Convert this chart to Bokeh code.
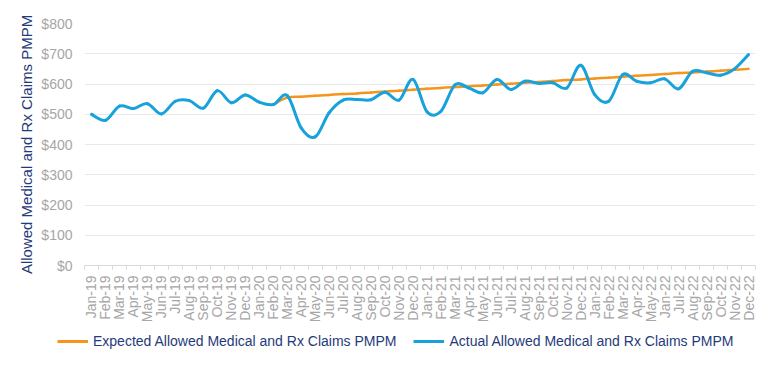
import numpy as np
from bokeh.plotting import figure
from bokeh.layouts import column
from bokeh.models import (Range1d, FixedTicker, Legend, LegendItem,
                          NumeralTickFormatter, ColumnDataSource)
from bokeh.embed import file_html
from bokeh.resources import INLINE

months = ["Jan-19", "Feb-19", "Mar-19", "Apr-19", "May-19", "Jun-19", "Jul-19", "Aug-19",
          "Sep-19", "Oct-19", "Nov-19", "Dec-19",
          "Jan-20", "Feb-20", "Mar-20", "Apr-20", "May-20", "Jun-20", "Jul-20", "Aug-20",
          "Sep-20", "Oct-20", "Nov-20", "Dec-20",
          "Jan-21", "Feb-21", "Mar-21", "Apr-21", "May-21", "Jun-21", "Jul-21", "Aug-21",
          "Sep-21", "Oct-21", "Nov-21", "Dec-21",
          "Jan-22", "Feb-22", "Mar-22", "Apr-22", "May-22", "Jan-22", "Jul-22", "Aug-22",
          "Sep-22", "Oct-22", "Nov-22", "Dec-22"]

actual = [500, 480, 527, 519, 535, 501, 543, 545, 520, 578, 538, 564,
          540, 532, 562, 455, 425, 505, 547, 549, 548, 573, 547, 615,
          508, 510, 597, 587, 571, 615, 582, 609, 602, 604, 587, 662,
          565, 543, 631, 609, 604, 617, 584, 642, 637, 629, 650, 697]

# Expected series starts at Feb-20 (index 13)
expected_start = 13
expected = [532, 555, 558, 561, 564, 567, 569, 572, 575, 578, 581, 584, 587, 590,
            592, 595, 598, 601, 604, 607, 610, 613, 615, 618, 621, 624, 627,
            630, 633, 636, 638, 641, 644, 647, 650]

y_ticks = [0, 100, 200, 300, 400, 500, 600, 700, 800]

series_names = ["Expected Allowed Medical and Rx Claims PMPM",
                "Actual Allowed Medical and Rx Claims PMPM"]

NAVY = "#1F3B7A"
BLUE = "#17A2DC"
ORANGE = "#F7941D"
FONT = "Liberation Sans"


def smooth_source(xs, ys):
    xs = np.asarray(xs, float)
    ys = np.asarray(ys, float)
    px = np.concatenate([[xs[0]], xs, [xs[-1]]])
    py = np.concatenate([[ys[0]], ys, [ys[-1]]])
    d = dict(x0=[], y0=[], x1=[], y1=[], cx0=[], cy0=[], cx1=[], cy1=[])
    for i in range(len(xs) - 1):
        a, b, c, e = i, i + 1, i + 2, i + 3
        d["x0"].append(px[b]); d["y0"].append(py[b])
        d["x1"].append(px[c]); d["y1"].append(py[c])
        d["cx0"].append(px[b] + (px[c] - px[a]) / 6.0)
        d["cy0"].append(py[b] + (py[c] - py[a]) / 6.0)
        d["cx1"].append(px[c] - (px[e] - px[b]) / 6.0)
        d["cy1"].append(py[c] - (py[e] - py[b]) / 6.0)
    return ColumnDataSource(d)


p = figure(width=760, height=329,
           x_range=Range1d(-0.5, len(months) - 0.5), y_range=Range1d(0, 800),
           output_backend="svg", toolbar_location=None,
           min_border_left=84, min_border_right=5, min_border_top=23,
           min_border_bottom=64)
p.frame_align = False
p.outline_line_color = None
p.background_fill_color = "white"
p.border_fill_color = "white"
p.xgrid.visible = False
p.ygrid.grid_line_color = "#E9E9E9"
p.ygrid.grid_line_width = 1

# y axis
p.yaxis.ticker = FixedTicker(ticks=y_ticks)
p.yaxis.formatter = NumeralTickFormatter(format="$0,0")
p.yaxis.axis_line_color = None
p.yaxis.major_tick_line_color = None
p.yaxis.minor_tick_line_color = None
p.yaxis.major_tick_out = 0
p.yaxis.major_label_standoff = 12
p.yaxis.major_label_text_font = FONT
p.yaxis.major_label_text_font_size = "14px"
p.yaxis.major_label_text_color = "#A6A6A6"
p.yaxis.axis_label = "Allowed Medical and Rx Claims PMPM"
p.yaxis.axis_label_text_font = FONT
p.yaxis.axis_label_text_font_style = "normal"
p.yaxis.axis_label_text_font_size = "15px"
p.yaxis.axis_label_text_color = NAVY
p.yaxis.axis_label_standoff = 3

# x axis
x_idx = list(range(len(months)))
p.xaxis.ticker = FixedTicker(ticks=x_idx,
                             minor_ticks=[i - 0.5 for i in range(len(months) + 1)])
p.xaxis.major_label_overrides = {i: lab for i, lab in enumerate(months)}
p.xaxis.major_label_orientation = np.pi / 2
p.xaxis.major_tick_line_color = None
p.xaxis.major_tick_out = 0
p.xaxis.major_tick_in = 0
p.xaxis.minor_tick_out = 4
p.xaxis.minor_tick_in = 0
p.xaxis.minor_tick_line_color = "#D9D9D9"
p.xaxis.axis_line_color = "#D9D9D9"
p.xaxis.major_label_standoff = 6
p.xaxis.major_label_text_font = FONT
p.xaxis.major_label_text_font_size = "14px"
p.xaxis.major_label_text_color = "#A6A6A6"

# lines
exp_x = x_idx[expected_start:expected_start + len(expected)]
src_exp = smooth_source(exp_x, expected)
src_act = smooth_source(x_idx, actual)

p.bezier(x0="x0", y0="y0", x1="x1", y1="y1", cx0="cx0", cy0="cy0", cx1="cx1", cy1="cy1",
         source=src_exp, line_color=ORANGE, line_width=2.5, line_cap="round")
p.bezier(x0="x0", y0="y0", x1="x1", y1="y1", cx0="cx0", cy0="cy0", cx1="cx1", cy1="cy1",
         source=src_act, line_color=BLUE, line_width=3, line_cap="round")

# legend in its own strip below the chart
lg = figure(width=760, height=27, output_backend="svg", toolbar_location=None,
            x_range=Range1d(0, 1), y_range=Range1d(0, 1),
            x_axis_location=None, y_axis_location=None,
            min_border=0, min_border_left=0, min_border_right=0,
            min_border_top=0, min_border_bottom=0)
lg.frame_align = False
lg.grid.visible = False
lg.outline_line_color = None
lg.border_fill_alpha = 0
lg.background_fill_alpha = 0
# single-point proxies: draw nothing in the strip, only feed the legend swatches
r_exp = lg.line(x=[0.5], y=[0.5], line_color=ORANGE, line_width=3)
r_act = lg.line(x=[0.5], y=[0.5], line_color=BLUE, line_width=3)

legend = Legend(items=[LegendItem(label=series_names[0], renderers=[r_exp]),
                       LegendItem(label=series_names[1], renderers=[r_act])],
                location=(57, 5), orientation="horizontal",
                padding=0, margin=0, border_line_color=None, background_fill_alpha=0,
                glyph_width=31, glyph_height=20, label_height=20, label_standoff=5,
                spacing=17, label_text_font=FONT, label_text_font_size="14px",
                label_text_color=NAVY)
lg.add_layout(legend)

layout = column(p, lg, spacing=0)
open("out.html", "w").write(file_html(layout, INLINE))
